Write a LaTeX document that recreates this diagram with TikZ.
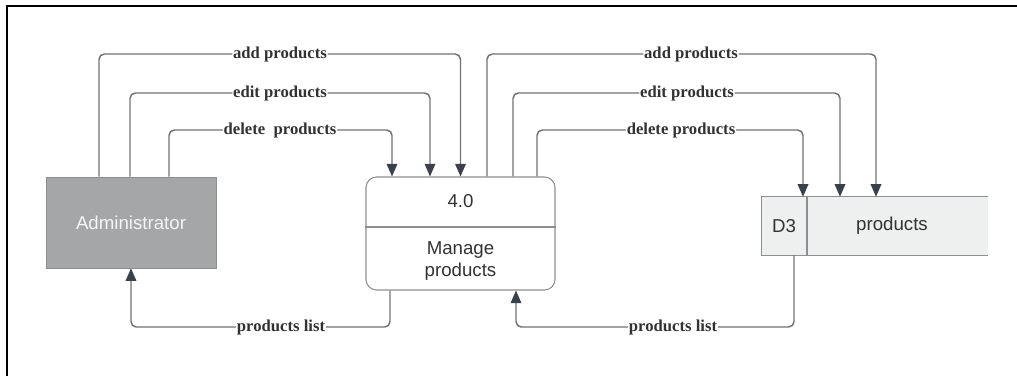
\documentclass[tikz,border=0pt]{standalone}
\usepackage{fontspec}
\setmainfont{Liberation Serif}
\setsansfont{Liberation Sans}
\usetikzlibrary{arrows.meta,calc}

\definecolor{linec}{RGB}{110,114,120}
\definecolor{tipc}{RGB}{58,65,75}
\definecolor{admfill}{RGB}{165,166,168}
\definecolor{storefill}{RGB}{238,240,239}
\definecolor{txtc}{RGB}{50,50,50}

\tikzset{
	flow/.style={draw=linec, line width=1.1pt, rounded corners=4pt,
		-{Triangle[length=9.5pt,width=8pt,color=tipc,fill=tipc]}},
	lbl/.style={fill=white, inner sep=0.6pt, text=txtc,
		font=\rmfamily\bfseries\fontsize{12.5}{14}\selectfont},
	sans/.style={font=\sffamily\fontsize{14}{17}\selectfont, align=center}
}

\begin{document}
\begin{tikzpicture}[x=0.75pt, y=-0.75pt]
		\useasboundingbox (0, 0) rectangle (1017, 376);
		\draw[line width=1.6pt] (7, 376) -- (7, 6) -- (1017, 6);

		% entities
		\node[draw=linec!80, fill=admfill, minimum width=127.5pt, minimum height=68.25pt,
			inner sep=0pt, sans, text=white!96!black] (admin) at (131, 222.5) {Administrator};
		\node[draw=linec!80, line width=0.8pt, rounded corners=8pt, minimum width=141.75pt,
			minimum height=84.75pt, inner sep=0pt] (proc) at (460.5, 233.5) {};
		\draw[draw=linec!80, line width=0.8pt] (proc.west |- 0, 227) -- (proc.east |- 0, 227);
		\node[sans, text=txtc] (procid) at (460.5, 201) {4.0};
		\node[sans, text=txtc] (procname) at (460.5, 261) {Manage\\products};

		\node[fill=storefill, minimum width=169.5pt, minimum height=43.5pt, inner sep=0pt] (store) at (875, 226) {};
		\draw[draw=linec!80, line width=0.8pt] (store.north east) -- (store.north west) -- (store.south west) -- (store.south east);
		\draw[draw=linec!80, line width=0.8pt] (store.north west -| 807, 0) -- (store.south west -| 807, 0);
		\node[sans, text=txtc] (storeid) at (784, 226) {D3};
		\node[sans, text=txtc] (storename) at (892, 226) {products};

		% flows admin -> process
		\draw[flow] ($(admin.north)+(-32, 0)$) |- (280, 54) node[lbl]{add products} -| (proc.north);
		\draw[flow] ($(admin.north)+(-1, 0)$) |- (280, 93) node[lbl]{edit products} -| ($(proc.north)+(-30.5, 0)$);
		\draw[flow] ($(admin.north)+(38, 0)$) |- (280, 130) node[lbl]{delete\ \ products} -| ($(proc.north)+(-68.5, 0)$);

		% flows process -> store
		\draw[flow] ($(proc.north)+(26.5, 0)$) |- (691, 54) node[lbl]{add products} -| ($(store.north)+(1, 0)$);
		\draw[flow] ($(proc.north)+(52.5, 0)$) |- (687, 93) node[lbl]{edit products} -| ($(store.north)+(-35, 0)$);
		\draw[flow] ($(proc.north)+(76.5, 0)$) |- (681, 130) node[lbl]{delete products} -| ($(store.north)+(-72, 0)$);

		% products list
		\draw[flow] ($(proc.south)+(-70.5, 0)$) |- (281, 327) node[lbl]{products list} -| (admin.south);
		\draw[flow] ($(store.south)+(-81, 0)$) |- (673, 327) node[lbl]{products list} -| ($(proc.south)+(55.5, 0)$);
	\end{tikzpicture}
\end{document}
